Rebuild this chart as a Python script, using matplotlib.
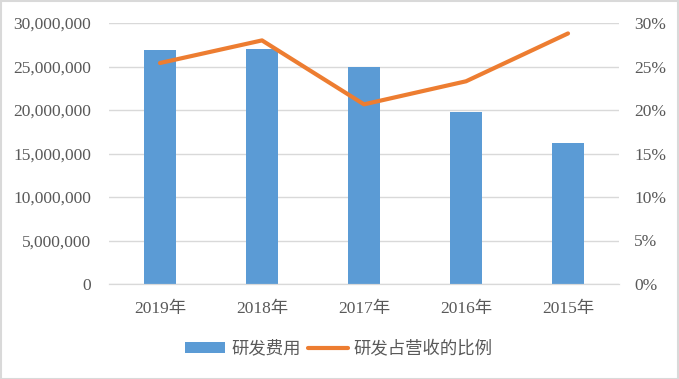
import matplotlib
matplotlib.use("Agg")
import matplotlib.pyplot as plt
from matplotlib.ticker import FuncFormatter
import numpy as np

plt.rcParams['font.family'] = ['Liberation Serif', 'Noto Sans CJK SC']

categories = ["2019年", "2018年", "2017年", "2016年", "2015年"]
rd_expense = [26900000, 27000000, 24950000, 19770000, 16200000]
rd_ratio = [25.4, 28.0, 20.65, 23.3, 28.8]

W, H = 679, 379
fig = plt.figure(figsize=(W / 100, H / 100), dpi=100)
ax = fig.add_axes([109 / W, 1 - 284 / H, (619 - 109) / W, (284 - 23) / H])
ax2 = ax.twinx()

x = np.arange(len(categories))
text_color = '#595959'
grid_color = '#d9d9d9'
fs = 12.5

ax.bar(x, rd_expense, width=0.31, color='#5B9BD5', label='研发费用', zorder=2)
ax2.plot(x, rd_ratio, color='#ED7D31', linewidth=3.0, label='研发占营收的比例',
         solid_capstyle='round', solid_joinstyle='round', zorder=3)

ax.set_xlim(-0.5, len(categories) - 0.5)
ax.set_ylim(0, 30000000)
ax.set_yticks(np.arange(0, 30000001, 5000000))
ax.yaxis.set_major_formatter(FuncFormatter(lambda v, p: f"{int(v):,}"))
ax2.set_ylim(0, 30)
ax2.set_yticks(np.arange(0, 31, 5))
ax2.yaxis.set_major_formatter(FuncFormatter(lambda v, p: f"{int(v)}%"))

ax.set_xticks(x)
ax.set_xticklabels(categories)

ax.grid(axis='y', color=grid_color, linewidth=1.0, zorder=0)
ax.set_axisbelow(True)
for a in (ax, ax2):
    for s in ('top', 'left', 'right'):
        a.spines[s].set_visible(False)
    a.spines['bottom'].set_color(grid_color)
    a.tick_params(length=0, labelsize=fs, colors=text_color)
ax.tick_params(axis='y', pad=13)
ax2.tick_params(axis='y', pad=11)
ax.tick_params(axis='x', pad=12)

h1, l1 = ax.get_legend_handles_labels()
h2, l2 = ax2.get_legend_handles_labels()
leg = fig.legend(h1 + h2, l1 + l2, loc='center', bbox_to_anchor=(339 / W, 1 - 349 / H),
                 ncol=2, frameon=False, fontsize=fs, handlelength=2.3,
                 handleheight=0.63, columnspacing=0.4, handletextpad=0.35)
for t in leg.get_texts():
    t.set_color(text_color)

fig.patches.append(plt.Rectangle((0.5 / W, 0.5 / H), 1 - 1.5 / W, 1 - 1.5 / H,
                                 transform=fig.transFigure, fill=False,
                                 edgecolor='#d9d9d9', linewidth=1.5))

fig.savefig("out.png", dpi=100)
